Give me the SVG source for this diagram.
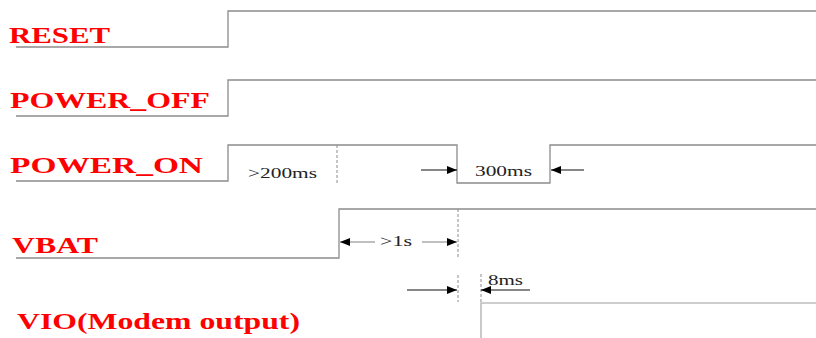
<svg xmlns="http://www.w3.org/2000/svg" width="816" height="338" viewBox="0 0 816 338">
<style>
.sig{fill:none;stroke:#8c8c8c;stroke-width:1.3}
.sigl{fill:none;stroke:#bdbdbd;stroke-width:1.6}
.dash{fill:none;stroke:#8c8c8c;stroke-width:1;stroke-dasharray:3,2}
.lbl{font-family:"Liberation Serif","Times New Roman",serif;font-weight:bold;font-size:24px;fill:#ff0000}
.dim{font-family:"Liberation Serif","Times New Roman",serif;font-size:15px;fill:#222}
.arr{stroke:#111;stroke-width:1.2;fill:none}
.arrg{stroke:#aaa;stroke-width:1.6;fill:none}
</style>
<defs>
<marker id="ah" viewBox="0 0 10 8" refX="10" refY="4" markerWidth="10" markerHeight="8" markerUnits="userSpaceOnUse" orient="auto">
<path d="M0,0 L10,4 L0,8 Z" fill="#000"/>
</marker>
</defs>
<g id="reset">
<text class="lbl" x="9" y="43" textLength="101" lengthAdjust="spacingAndGlyphs">RESET</text>
<polyline class="sig" points="16,47 228,47 228,11 816,11"/>
</g>
<g id="power_off">
<text class="lbl" x="10" y="108" textLength="200" lengthAdjust="spacingAndGlyphs">POWER_OFF</text>
<polyline class="sig" points="16,116 228,116 228,80 816,80"/>
</g>
<g id="power_on">
<text class="lbl" x="10" y="173" textLength="193" lengthAdjust="spacingAndGlyphs">POWER_ON</text>
<polyline class="sig" points="16,181 228,181 228,145 457,145 457,183 550,183 550,145 816,145"/>
</g>
<g id="vbat">
<text class="lbl" x="12" y="253" textLength="86" lengthAdjust="spacingAndGlyphs">VBAT</text>
<polyline class="sig" points="16,258 339,258 339,209 816,209"/>
</g>
<g id="vio">
<text class="lbl" x="17" y="329" textLength="283" lengthAdjust="spacingAndGlyphs">VIO(Modem output)</text>
<polyline class="sigl" points="481,338 481,303 816,303"/>
</g>
<g id="connectors">
<line class="dash" x1="337" y1="145" x2="337" y2="183"/>
<line class="dash" x1="458" y1="209" x2="458" y2="258"/>
<line class="dash" x1="458" y1="275" x2="458" y2="302"/>
<line class="dash" x1="481" y1="274" x2="481" y2="302"/>
<line class="arr" x1="421" y1="170" x2="457" y2="170" marker-end="url(#ah)"/>
<line class="arr" x1="584" y1="170" x2="551" y2="170" marker-end="url(#ah)"/>
<line class="arrg" x1="375" y1="242" x2="340" y2="242" marker-end="url(#ah)"/>
<line class="arrg" x1="422" y1="242" x2="457" y2="242" marker-end="url(#ah)"/>
<line class="arr" x1="407" y1="290" x2="457" y2="290" marker-end="url(#ah)"/>
<line class="arr" x1="530" y1="290" x2="481" y2="290" marker-end="url(#ah)"/>
<text class="dim" x="248" y="178" textLength="69" lengthAdjust="spacingAndGlyphs">&gt;200ms</text>
<text class="dim" x="475" y="176" textLength="57" lengthAdjust="spacingAndGlyphs">300ms</text>
<text class="dim" x="380" y="246" textLength="32" lengthAdjust="spacingAndGlyphs">&gt;1s</text>
<text class="dim" x="488" y="285" textLength="35" lengthAdjust="spacingAndGlyphs">8ms</text>
</g>
</svg>
